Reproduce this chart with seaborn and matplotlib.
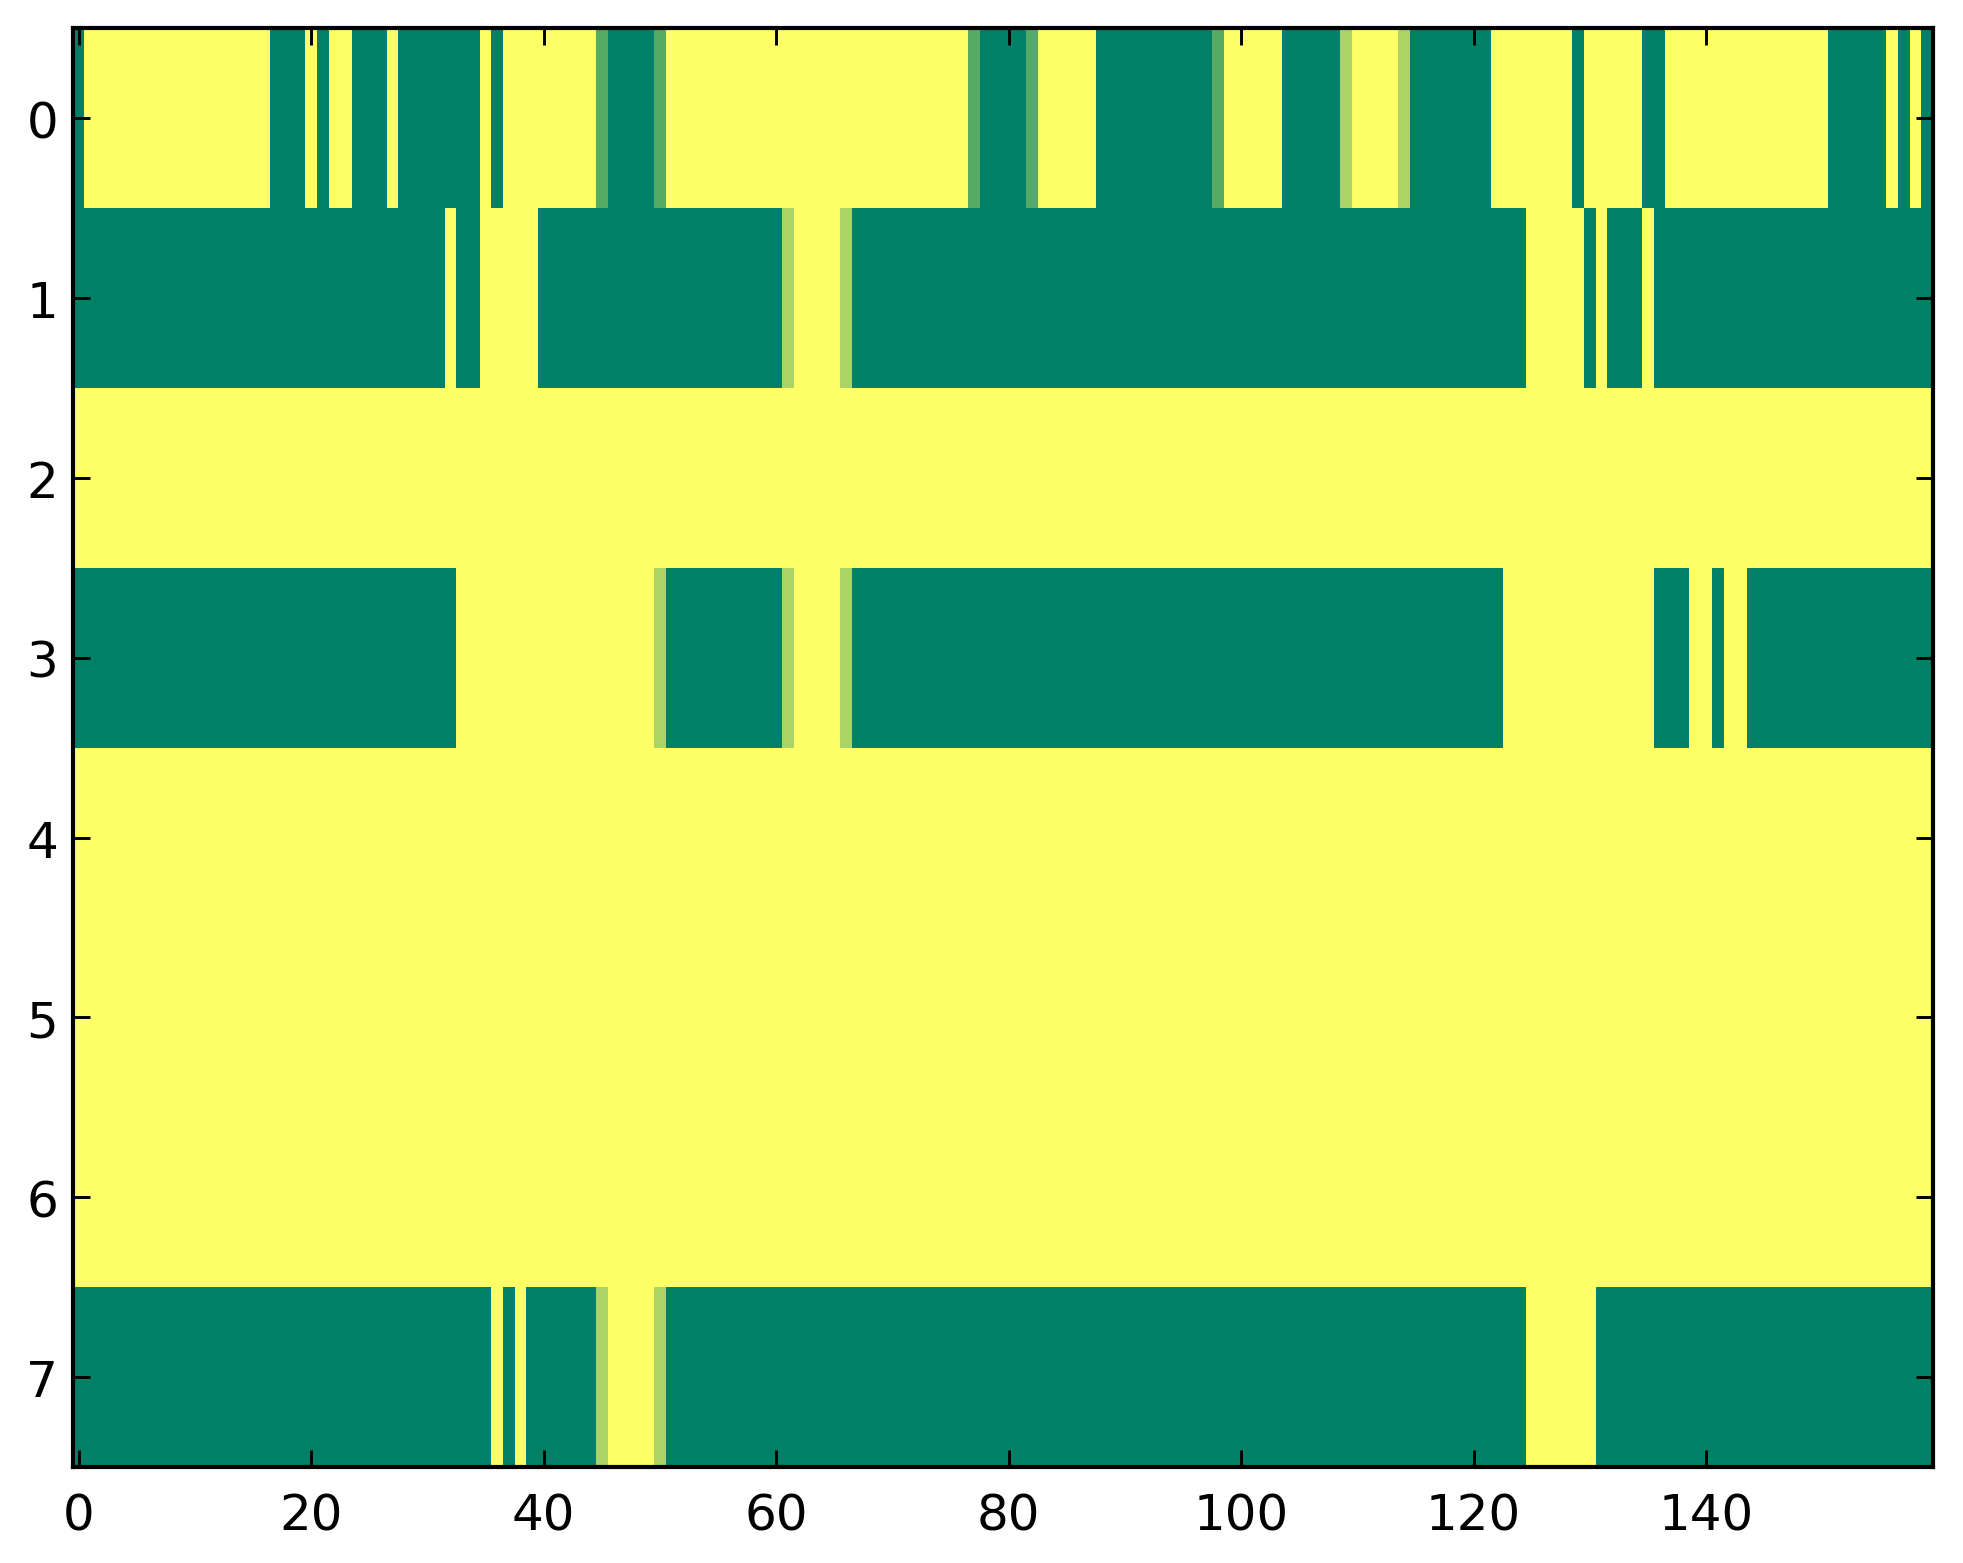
import numpy as np
import pandas as pd
import matplotlib.pyplot as plt
import seaborn as sns

n_cols = 160
n_rows = 8

# runs of full value (1.0) per row, inclusive column ranges
row0_on = [(0, 0), (17, 19), (21, 21), (24, 26), (28, 34), (36, 36), (46, 49), (78, 81),
           (88, 97), (104, 108), (115, 121), (129, 129), (135, 136), (151, 155),
           (157, 157), (159, 159)]
row1_on = [(0, 31), (33, 34), (40, 60), (67, 124), (130, 130), (132, 134), (136, 159)]
row3_on = [(0, 32), (51, 60), (67, 122), (136, 138), (141, 141), (144, 159)]
row7_on = [(0, 35), (37, 37), (39, 44), (51, 124), (131, 159)]

# single cells with partial values
row0_two_thirds = [45, 50, 77, 82, 98]
row0_one_third = [109, 114]
row1_one_third = [61, 66]
row3_one_third = [50, 61, 66]
row7_one_third = [45, 50]

on_runs = {0: row0_on, 1: row1_on, 3: row3_on, 7: row7_on}
partial = {0: [(row0_two_thirds, 2 / 3), (row0_one_third, 1 / 3)],
           1: [(row1_one_third, 1 / 3)],
           3: [(row3_one_third, 1 / 3)],
           7: [(row7_one_third, 1 / 3)]}

grid = np.zeros((n_rows, n_cols))
for r, runs in on_runs.items():
    for a, b in runs:
        grid[r, a:b + 1] = 1.0
for r, items in partial.items():
    for cols, v in items:
        grid[r, cols] = v

df = pd.DataFrame(grid)

sns.set_style("white")
plt.rcParams["font.family"] = ["DejaVu Sans"]

fig = plt.figure(figsize=(1963 / 300, 1564 / 300), dpi=300)
ax = fig.add_axes([0.0371, 0.0614, 0.9475, 0.9199])
sns.heatmap(df, cmap="summer_r", vmin=0, vmax=1, cbar=False, ax=ax,
            xticklabels=False, yticklabels=False)

xt = np.arange(0, n_cols, 20)
ax.set_xticks(xt + 0.5)
ax.set_xticklabels([str(v) for v in xt])
yt = np.arange(n_rows)
ax.set_yticks(yt + 0.5)
ax.set_yticklabels([str(v) for v in yt], rotation=0)

for s in ax.spines.values():
    s.set_visible(True)
    s.set_linewidth(1.0)
    s.set_color("black")
    s.set_zorder(5)
ax.tick_params(direction="in", top=True, right=True, bottom=True, left=True,
               length=4, width=0.7, color="black", labelcolor="black",
               labelsize=12)
ax.tick_params(axis="x", pad=6)
ax.tick_params(axis="y", pad=3.5)
ax.set_axisbelow(False)
ax.set_xlabel("")
ax.set_ylabel("")

fig.savefig("out.png", dpi=300)
